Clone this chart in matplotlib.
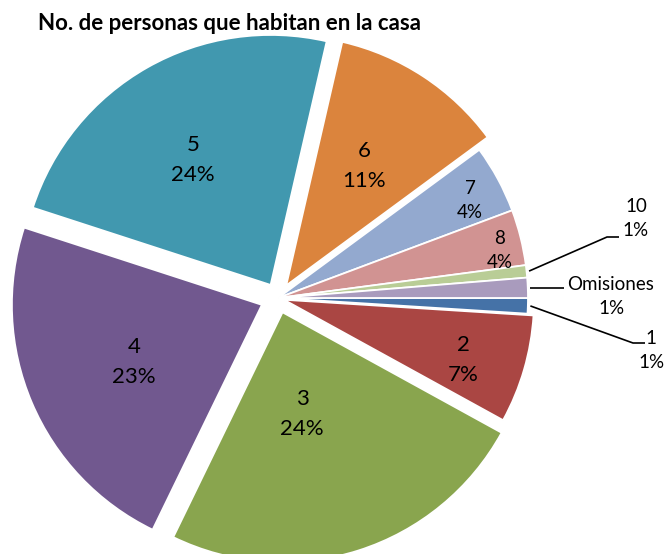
import matplotlib
matplotlib.use("Agg")
import matplotlib.pyplot as plt
import numpy as np

# ---- data ----
categories = ["1", "2", "3", "4", "5", "6", "7", "8", "10", "Omisiones"]
values = [1.0, 7.0, 24.2, 22.8, 23.6, 11.3, 4.4, 3.6, 0.8, 1.3]
pct_labels = ["1%", "7%", "24%", "23%", "24%", "11%", "4%", "4%", "1%", "1%"]
title = "No. de personas que habitan en la casa"

colors = ["#4572A7", "#AA4643", "#89A54E", "#71588F", "#4198AF",
          "#DB843D", "#93A9CF", "#D19392", "#B9CD96", "#A99BBD"]
explode = [0, 0.025, 0.06, 0.07, 0.06, 0.06, 0, 0, 0, 0]

W, H = 668, 554
CX, CY = 278, 298      # pie centre in pixels (from top-left)
R = 250                # radius in pixels

fig = plt.figure(figsize=(W / 100, H / 100), dpi=100)
ax = fig.add_axes([0, 0, 1, 1])

def px(X, Y):
    return (X - CX) / R, (CY - Y) / R

wedges, _ = ax.pie(values, colors=colors, explode=explode, startangle=0,
                   counterclock=False, radius=1.0,
                   wedgeprops=dict(edgecolor="white", linewidth=1.3))

ax.set_xlim(-CX / R, (W - CX) / R)
ax.set_ylim(-(H - CY) / R, CY / R)
ax.set_aspect("auto")
ax.axis("off")

font = "Lato"
big = 16
small = 13.5

# label positions (pixel coords) and font sizes
label_pos = [(651, 351), (463, 360), (302, 414), (134, 362), (193, 160),
             (364, 166), (470, 200), (500, 250), (636, 218), (611, 296)]
label_size = [small, big, big, big, big, big, small, small, small, small]
label_ls = [1.5, 1.6, 1.6, 1.6, 1.6, 1.6, 1.5, 1.5, 1.5, 1.5]

for i, (cat, pl) in enumerate(zip(categories, pct_labels)):
    x, y = px(*label_pos[i])
    ax.text(x, y, f"{cat}\n{pl}", ha="center", va="center",
            fontsize=label_size[i], family=font, color="black",
            linespacing=label_ls[i])

# leader lines for the small outside labels
def mid_point(w, r=1.0):
    ang = np.deg2rad((w.theta1 + w.theta2) / 2)
    cx, cy = w.center
    return cx + r * np.cos(ang), cy + r * np.sin(ang)

leaders = {8: [(607, 237), (619, 237)],
           9: [(564, 288)],
           0: [(633, 343), (645, 343)]}
for idx, pts in leaders.items():
    x0, y0 = mid_point(wedges[idx], 1.01)
    xs = [x0] + [px(*p)[0] for p in pts]
    ys = [y0] + [px(*p)[1] for p in pts]
    if idx == 9:
        ys = [px(0, 288)[1]] * len(xs)
    ax.plot(xs, ys, color="black", linewidth=1.2, solid_capstyle="butt")

fig.text(230 / W, 1 - 24 / H, title, ha="center", va="center",
         fontsize=16, fontweight="bold", family=font)

fig.savefig("out.png", dpi=100)
